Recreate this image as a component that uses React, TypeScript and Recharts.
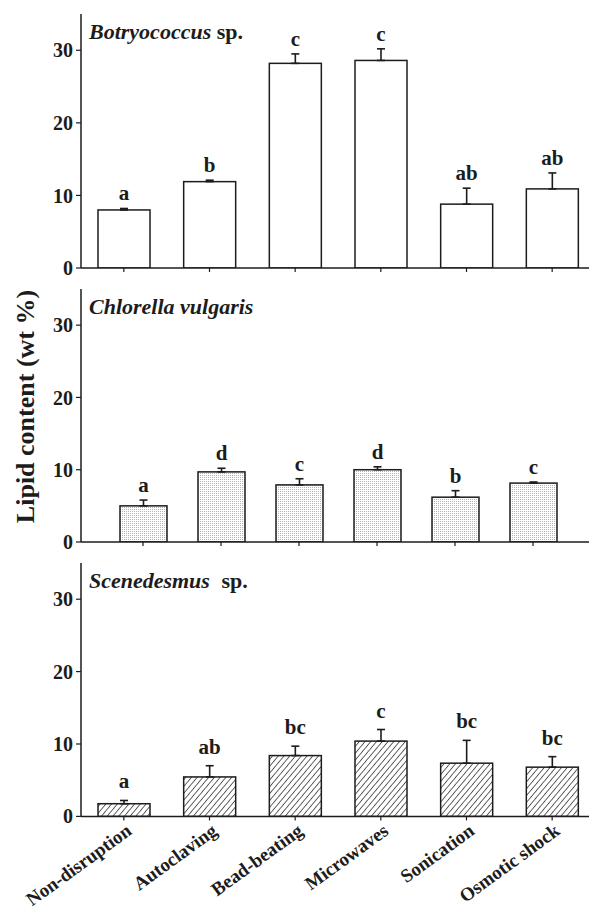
import React from 'react';
import { BarChart, Bar, XAxis, YAxis, ErrorBar, Label } from 'recharts';

// ---- data ----
const methods = ['Non-disruption', 'Autoclaving', 'Bead-beating', 'Microwaves', 'Sonication', 'Osmotic shock'];

const botryoValues = [8.0, 11.9, 28.2, 28.6, 8.8, 10.9];
const botryoErrors = [0.2, 0.2, 1.3, 1.6, 2.2, 2.2];
const botryoLetters = ['a', 'b', 'c', 'c', 'ab', 'ab'];

const chlorellaValues = [5.0, 9.7, 7.9, 10.0, 6.2, 8.15];
const chlorellaErrors = [0.8, 0.5, 0.85, 0.4, 0.9, 0.15];
const chlorellaLetters = ['a', 'd', 'c', 'd', 'b', 'c'];

const scenValues = [1.75, 5.45, 8.4, 10.4, 7.35, 6.8];
const scenErrors = [0.45, 1.55, 1.3, 1.6, 3.15, 1.45];
const scenLetters = ['a', 'ab', 'bc', 'c', 'bc', 'bc'];

const yTicks = [0, 10, 20, 30];
const yDomain = [0, 35];
const yTitle = 'Lipid content (wt %)';

// ---- styling ----
const FONT = '"Liberation Serif", "Times New Roman", Times, serif';
const INK = '#1c1c1c';

function buildRows(values: number[], errors: number[], letters: string[]) {
  return methods.map((m, i) => ({
    method: m,
    lipid: values[i],
    err: [0, errors[i]],
    errUp: errors[i],
    letter: letters[i],
  }));
}

const makeBarShape = (gap: number) => (props: any) => {
  const { x, y, width, height, fill, payload } = props;
  const perUnit = payload.lipid > 0 ? height / payload.lipid : 0;
  const errTop = y - payload.errUp * perUnit;
  return (
    <g>
      <rect x={x} y={y} width={width} height={height} fill={fill} stroke={INK} strokeWidth={1.5} />
      <text
        x={x + width / 2}
        y={errTop - gap}
        textAnchor="middle"
        fontFamily={FONT}
        fontWeight="bold"
        fontSize={21}
        fill={INK}
      >
        {payload.letter}
      </text>
    </g>
  );
};

const EmptyTick = () => <g />;

const RotTick = (props: any) => {
  const { x, y, payload } = props;
  const px = x + 9;
  const py = y + 11;
  return (
    <text
      x={px}
      y={py}
      textAnchor="end"
      transform={`rotate(-36 ${px} ${py})`}
      fontFamily={FONT}
      fontWeight="bold"
      fontSize={19}
      fill={INK}
    >
      {payload.value}
    </text>
  );
};

type PanelProps = {
  rows: any[];
  title: React.ReactNode;
  fill: string;
  top: number;
  plotH: number;
  xAxisH: number;
  labels: boolean;
  padding: { left: number; right: number };
  barSize: number;
  gap: number;
  showYTitle?: boolean;
  defs?: React.ReactNode;
};

function Panel({ rows, title, fill, top, plotH, xAxisH, labels, padding, barSize, gap, showYTitle, defs }: PanelProps) {
  const mTop = 10;
  const W = 620;
  const H = mTop + plotH + xAxisH;
  const axisStroke = { stroke: INK, strokeWidth: 1.5 };
  return (
    <div style={{ position: 'absolute', left: 0, top: top - mTop }}>
      <BarChart width={W} height={H} data={rows} margin={{ top: mTop, right: 25, left: 0, bottom: 0 }} barSize={barSize}>
        {defs}
        <XAxis
          xAxisId="top"
          orientation="top"
          dataKey="method"
          height={0}
          tick={false}
          tickLine={false}
          axisLine={axisStroke}
          padding={padding}
        />
        <XAxis
          dataKey="method"
          height={xAxisH}
          padding={padding}
          axisLine={axisStroke}
          tickLine={{ stroke: INK, strokeWidth: 1.2 }}
          tickSize={4}
          tickMargin={2}
          interval={0}
          tick={labels ? RotTick : EmptyTick}
        />
        <YAxis
          width={81}
          domain={yDomain}
          ticks={yTicks}
          interval={0}
          allowDataOverflow
          axisLine={axisStroke}
          tickLine={{ stroke: INK, strokeWidth: 1.2 }}
          tickSize={5}
          tickMargin={3}
          tick={{ fontFamily: FONT, fontWeight: 'bold', fontSize: 20, fill: INK }}
        >
          <Label
            content={(p: any) => {
              const vb = p.viewBox || { x: 0, y: mTop, width: 81, height: plotH };
              const cx = 34;
              const cy = vb.y + vb.height / 2 - 9;
              return (
                <g>
                  <text
                    x={vb.x + vb.width + 8}
                    y={vb.y + 25}
                    fontFamily={FONT}
                    fontWeight="bold"
                    fontSize={22}
                    fill={INK}
                  >
                    {title}
                  </text>
                  {showYTitle && (
                    <text
                      x={cx}
                      y={cy}
                      textAnchor="middle"
                      transform={`rotate(-90 ${cx} ${cy})`}
                      fontFamily={FONT}
                      fontWeight="bold"
                      fontSize={26}
                      fill={INK}
                    >
                      {yTitle}
                    </text>
                  )}
                </g>
              );
            }}
          />
        </YAxis>
        <Bar dataKey="lipid" fill={fill} shape={makeBarShape(gap)} isAnimationActive={false}>
          <ErrorBar dataKey="err" width={4} stroke={INK} strokeWidth={1.6} direction="y" />
        </Bar>
      </BarChart>
    </div>
  );
}

export default function App() {
  const botryoRows = buildRows(botryoValues, botryoErrors, botryoLetters);
  const chlorellaRows = buildRows(chlorellaValues, chlorellaErrors, chlorellaLetters);
  const scenRows = buildRows(scenValues, scenErrors, scenLetters);

  const dotDefs = (
    <defs>
      <pattern id="dotsPat" patternUnits="userSpaceOnUse" width={2} height={2}>
        <rect x={0} y={0} width={2} height={2} fill="#ffffff" />
        <rect x={0} y={0} width={1} height={1} fill="#b4b4b4" />
      </pattern>
    </defs>
  );
  const hatchDefs = (
    <defs>
      <pattern id="hatchPat" patternUnits="userSpaceOnUse" width={4.4} height={10} patternTransform="rotate(40)">
        <rect x={0} y={0} width={4.4} height={10} fill="#ffffff" />
        <line x1={0} y1={0} x2={0} y2={10} stroke="#222222" strokeWidth={1.4} />
      </pattern>
    </defs>
  );

  return (
    <div
      style={{
        position: 'absolute',
        left: 0,
        top: 0,
        width: 589,
        height: 909,
        overflow: 'hidden',
        background: '#ffffff',
      }}
    >
      <Panel
        rows={botryoRows}
        title={
          <>
            <tspan fontStyle="italic">Botryococcus</tspan>
            <tspan> sp.</tspan>
          </>
        }
        fill="#ffffff"
        top={14}
        plotH={254}
        xAxisH={10}
        labels={false}
        padding={{ left: 0, right: 0 }}
        barSize={52}
        gap={8}
      />
      <Panel
        rows={chlorellaRows}
        title={<tspan fontStyle="italic">Chlorella vulgaris</tspan>}
        fill="url(#dotsPat)"
        top={289.3}
        plotH={253}
        xAxisH={10}
        labels={false}
        padding={{ left: 23, right: 23 }}
        barSize={47}
        gap={8}
        showYTitle
        defs={dotDefs}
      />
      <Panel
        rows={scenRows}
        title={
          <>
            <tspan fontStyle="italic">Scenedesmus</tspan>
            <tspan dx={6}> sp.</tspan>
          </>
        }
        fill="url(#hatchPat)"
        top={563.3}
        plotH={253.4}
        xAxisH={92}
        labels
        padding={{ left: 0, right: 0 }}
        barSize={52}
        gap={12}
        defs={hatchDefs}
      />
    </div>
  );
}
